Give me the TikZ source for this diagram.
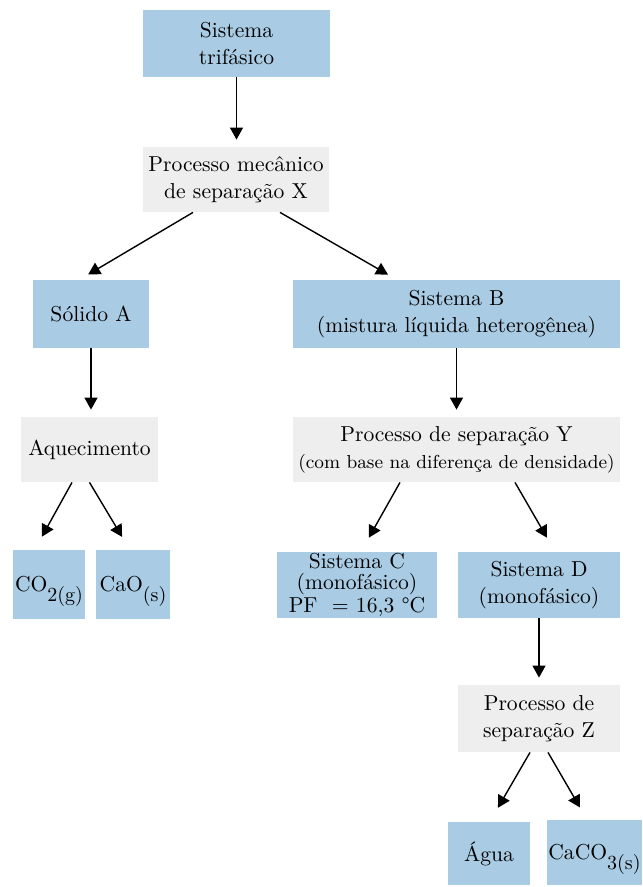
\documentclass[tikz,border=0pt]{standalone}
\usetikzlibrary{arrows.meta}
\definecolor{caixaazul}{RGB}{169,204,228}
\definecolor{caixacinza}{RGB}{238,238,238}
\tikzset{
  azul/.style={fill=caixaazul, align=center, inner sep=0pt, font=\fontsize{10.8}{13.5}\selectfont},
  cinza/.style={fill=caixacinza, align=center, inner sep=0pt, font=\fontsize{10.8}{13.5}\selectfont},
  seta/.style={-{Triangle[width=6.5pt,length=6pt]}, line width=0.7pt},
}
\newcommand{\ind}[1]{\smash{\raisebox{-1ex}{\fontsize{10}{10}\selectfont #1}}}
\begin{document}
\begin{tikzpicture}[x=0.5pt,y=-0.5pt]
    \useasboundingbox (0,0) rectangle (642,887);
    \node[azul, minimum width=93.5pt, minimum height=33.5pt] (t) at (236.5,43.5) {Sistema\\trifásico};
    \node[cinza, minimum width=93pt, minimum height=32.5pt] (x) at (236,179.5) {Processo mecânico\\de separação X};
    \node[azul, minimum width=58pt, minimum height=34pt] (a) at (91,314) {Sólido A};
    \node[azul, minimum width=163.5pt, minimum height=34pt] (b) at (456.5,314) {Sistema B\\(mistura líquida heterogênea)};
    \node[cinza, minimum width=68.5pt, minimum height=32.5pt] (aq) at (89.5,449.5) {Aquecimento};
    \node[cinza, minimum width=163.5pt, minimum height=32.5pt] (y) at (456.5,449.5) {Processo de separação Y\\{\fontsize{9.4}{13.5}\selectfont (com base na diferença de densidade)}};
    \node[azul, minimum width=36pt, minimum height=34.5pt] (co) at (49,584.5) {CO\ind{2(g)}};
    \node[azul, minimum width=37pt, minimum height=34.5pt] (cao) at (133,584.5) {CaO\ind{(s)}};
    \node[azul, minimum width=80pt, minimum height=33pt, font=\fontsize{10.8}{10.3}\selectfont] (c) at (357,585) {Sistema C\\(monofásico)\\PF\ \ = 16,3 °C};
    \node[azul, minimum width=81pt, minimum height=33pt] (d) at (539,585) {Sistema D\\(monofásico)};
    \node[cinza, minimum width=81pt, minimum height=33.5pt] (z) at (539,718.5) {Processo de\\separação Z};
    \node[azul, minimum width=41pt, minimum height=31.5pt] (agua) at (489,853.5) {Água};
    \node[azul, minimum width=47.5pt, minimum height=32.5pt] (caco) at (594.5,852.5) {CaCO\ind{3(s)}};

    \draw[seta, shorten >=3.5pt] (t.south) -- (t.south |- x.north);
    \draw[seta, shorten >=5pt] ([xshift=-21.5pt]x.south) -- ([xshift=-5.75pt]a.north);
    \draw[seta, shorten >=5pt] ([xshift=22pt]x.south) -- ([xshift=-29.9pt]b.north);
    \draw[seta, shorten >=3.5pt] (a.south) -- (a.south |- aq.north);
    \draw[seta, shorten >=3.5pt] (b.south) -- (b.south |- y.north);
    \draw[seta, shorten >=7.4pt] ([xshift=-8.75pt]aq.south) -- ([xshift=-7.1pt]co.north);
    \draw[seta, shorten >=7.4pt] (aq.south) -- ([xshift=-1.65pt]cao.north);
    \draw[seta, shorten >=8pt] ([xshift=-28.25pt]y.south) -- ([xshift=2pt]c.north);
    \draw[seta, shorten >=8pt] ([xshift=29.25pt]y.south) -- ([xshift=8pt]d.north);
    \draw[seta, shorten >=3.5pt] (d.south) -- (d.south |- z.north);
    \draw[seta, shorten >=8pt] ([xshift=-4.5pt]z.south) -- ([xshift=0.45pt]agua.north);
    \draw[seta, shorten >=7pt] ([xshift=4.5pt]z.south) -- ([xshift=-3.75pt]caco.north);
\end{tikzpicture}
\end{document}
